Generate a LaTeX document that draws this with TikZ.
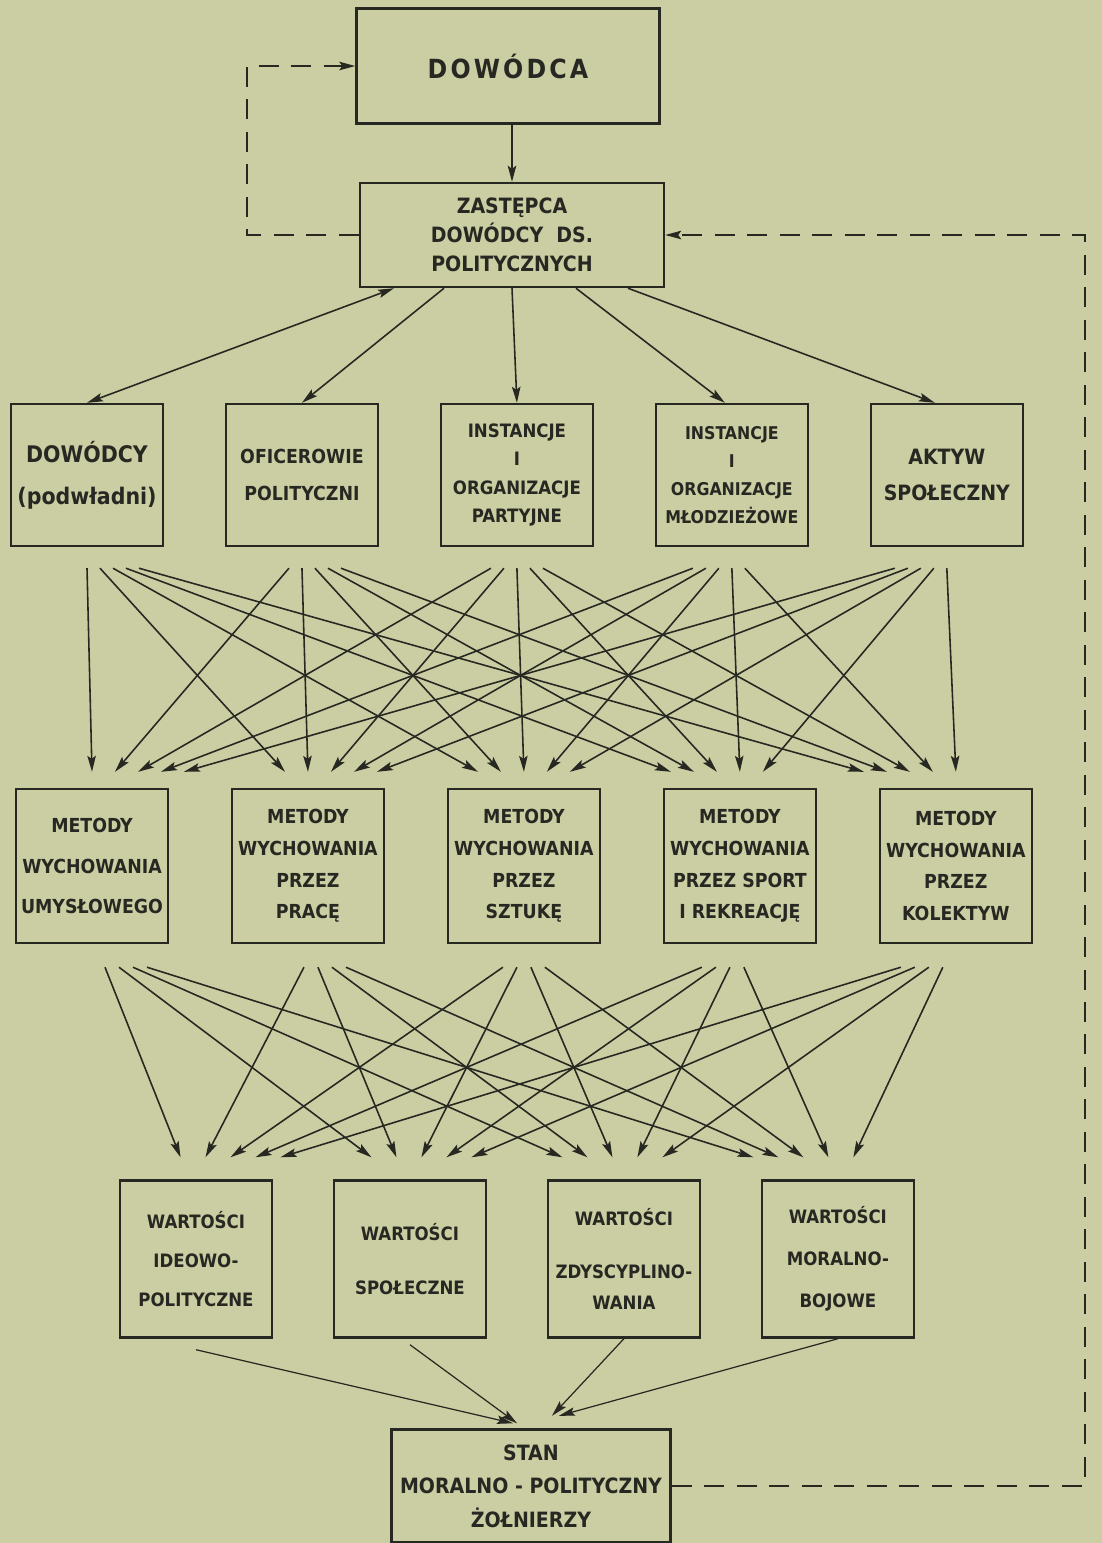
\documentclass[tikz,border=0pt]{standalone}
\usepackage{fontspec}
\setmainfont{DejaVu Sans Condensed}
\usetikzlibrary{positioning,arrows.meta}

\definecolor{paper}{RGB}{203,206,163}
\definecolor{ink}{RGB}{40,40,34}

\tikzset{
  box/.style={draw=ink, line width=1.4pt, align=center, text=ink, inner sep=2pt,
    font=\bfseries\fontsize{11}{18}\selectfont},
  chief/.style={box, minimum width=6.06cm, minimum height=2.3cm},
  agent/.style={box, minimum width=3.04cm, minimum height=2.84cm},
  method/.style={box, minimum width=3.04cm, minimum height=3.08cm},
  value/.style={box, minimum width=3.04cm, minimum height=3.14cm},
  fb/.style={line width=1pt, dash pattern=on 0.4cm off 0.25cm},
}

\begin{document}
\begin{tikzpicture}
	[x=0.02cm, y=-0.02cm, >={Stealth[length=0.32cm,width=0.17cm,inset=0.06cm]},
	 on grid, ink, line width=0.9pt]
\fill[paper] (0,0) rectangle (1102,1543);
\useasboundingbox (0,0) rectangle (1102,1543);

% top
\node[chief, font=\bfseries\fontsize{15}{18}\selectfont\addfontfeatures{LetterSpace=12}]
	(dow) at (508,66) {DOWÓDCA};
\node[chief, minimum width=6.08cm, minimum height=2.08cm, font=\bfseries\fontsize{12}{16.5}\selectfont]
	(zas) at (512,235) {ZASTĘPCA\\DOWÓDCY~~DS.\\POLITYCZNYCH};

% agents
\node[agent, font=\bfseries\fontsize{13}{24}\selectfont] (a0) at (87,475) {DOWÓDCY\\(podwładni)};
\node[agent, font=\bfseries\fontsize{11}{21}\selectfont] (a1) [right = 4.3cm of a0] {OFICEROWIE\\POLITYCZNI};
\node[agent, font=\bfseries\fontsize{10.5}{16}\selectfont] (a2) [right = 4.3cm of a1] {INSTANCJE\\I\\ORGANIZACJE\\PARTYJNE};
\node[agent, font=\bfseries\fontsize{10}{16}\selectfont] (a3) [right = 4.3cm of a2] {INSTANCJE\\I\\ORGANIZACJE\\MŁODZIEŻOWE};
\node[agent, font=\bfseries\fontsize{12}{20}\selectfont] (a4) [right = 4.3cm of a3] {AKTYW\\SPOŁECZNY};

% methods
\node[method, font=\bfseries\fontsize{11}{23}\selectfont] (m0) at (92,866) {METODY\\WYCHOWANIA\\UMYSŁOWEGO};
\node[method] (m1) [right = 4.32cm of m0] {METODY\\WYCHOWANIA\\PRZEZ\\PRACĘ};
\node[method] (m2) [right = 4.32cm of m1] {METODY\\WYCHOWANIA\\PRZEZ\\SZTUKĘ};
\node[method] (m3) [right = 4.32cm of m2] {METODY\\WYCHOWANIA\\PRZEZ SPORT\\I REKREACJĘ};
\node[method] (m4) [right = 4.32cm of m3] {METODY\\WYCHOWANIA\\PRZEZ\\KOLEKTYW};

% values
\node[value, font=\bfseries\fontsize{10.5}{22}\selectfont] (v0) at (196,1259) {WARTOŚCI\\IDEOWO-\\POLITYCZNE};
\node[value, font=\bfseries\fontsize{10.5}{22}\selectfont] (v1) [right = 4.28cm of v0] {WARTOŚCI\\[9pt]SPOŁECZNE};
\node[value, font=\bfseries\fontsize{10.5}{18}\selectfont] (v2) [right = 4.28cm of v1] {WARTOŚCI\\[12pt]ZDYSCYPLINO-\\WANIA};
\node[value, font=\bfseries\fontsize{10.5}{24}\selectfont] (v3) [right = 4.28cm of v2] {WARTOŚCI\\MORALNO-\\BOJOWE};

\node[box, minimum width=5.58cm, minimum height=2.26cm, font=\bfseries\fontsize{12}{19}\selectfont]
	(stan) at (531,1486) {STAN\\MORALNO - POLITYCZNY\\ŻOŁNIERZY};

% connectors
\draw[->] ([xshift=0.08cm]dow.south) -- (zas.north);
\draw[<->] ([xshift=-2.36cm]zas.south) -- (a0.north);
\draw[->] ([xshift=-1.36cm]zas.south) -- (a1.north);
\draw[->] (zas.south) -- (a2.north);
\draw[->] ([xshift=1.28cm]zas.south) -- ([xshift=-0.14cm]a3.north);
\draw[->] ([xshift=2.32cm]zas.south) -- ([xshift=-0.24cm]a4.north);

\foreach \i in {0,...,4}
	\foreach \j in {0,...,4}
		\draw[->] ([xshift={(\j-\i)*0.26cm}, yshift=-0.42cm]a\i.south)
			-- ([xshift={(\i-\j)*0.46cm}, yshift=0.32cm]m\j.north);

\foreach \i in {0,...,4}
	\foreach \j in {0,...,3}
		\draw[->] ([xshift={(2-\i)*0.34cm+(\j-1.5)*0.28cm}, yshift=-0.46cm]m\i.south)
			-- ([xshift={(1.5-\j)*0.46cm+(\i-2)*0.5cm}, yshift=0.44cm]v\j.north);

\draw[->, line width=0.7pt] ([yshift=-0.22cm]v0.south) -- ([xshift=-0.36cm,yshift=0.1cm]stan.north);
\draw[->, line width=0.7pt] ([yshift=-0.12cm]v1.south) -- ([xshift=-0.28cm,yshift=0.1cm]stan.north);
\draw[->, line width=0.7pt] (v2.south) -- ([xshift=0.42cm,yshift=0.25cm]stan.north);
\draw[->, line width=0.7pt] (v3.south) -- ([xshift=0.56cm,yshift=0.25cm]stan.north);

% feedback
\coordinate (lft) at (247,150);
\coordinate (rgt) at (1085,800);
\draw[fb,->] (zas.west) -| (lft) |- (dow.west);
\draw[fb,->] (stan.east) -| (rgt) |- (zas.east);
\end{tikzpicture}
\end{document}
